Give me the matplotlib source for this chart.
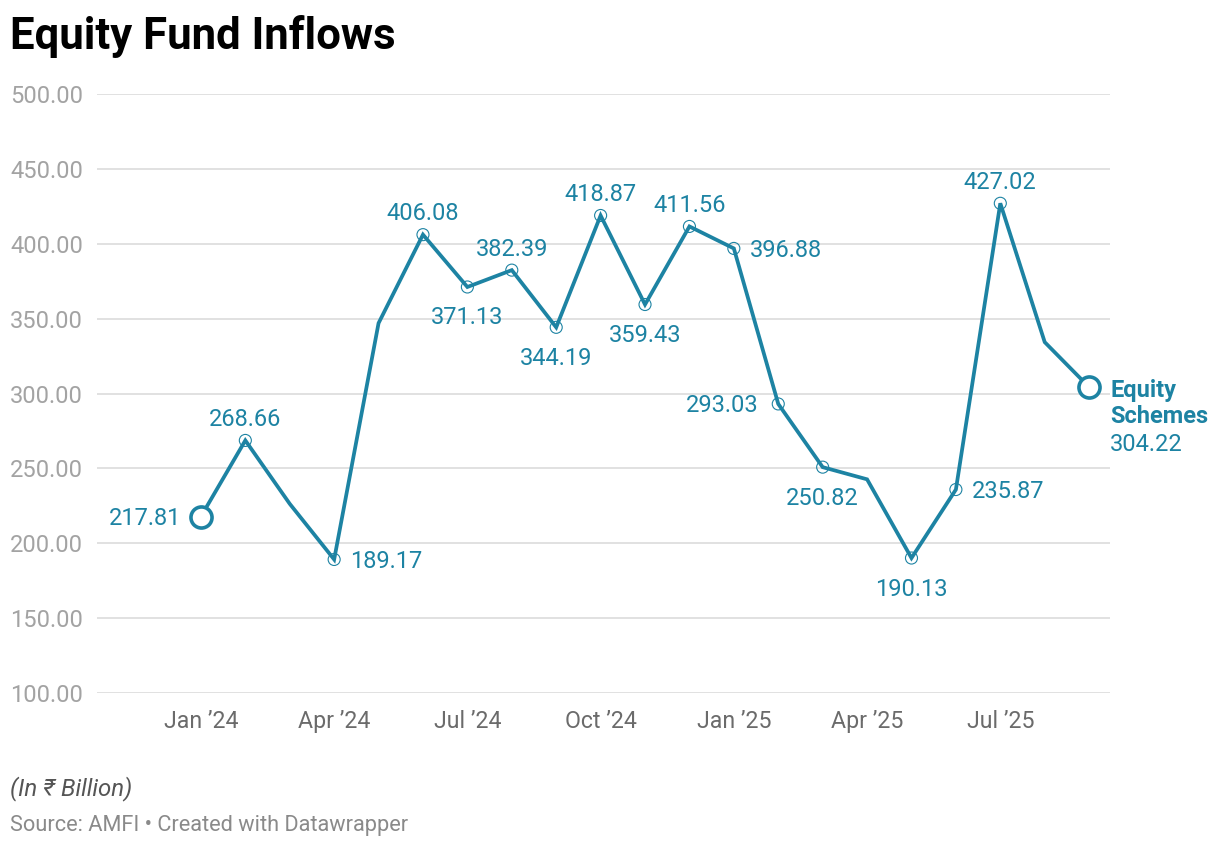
import matplotlib
matplotlib.use("Agg")
import matplotlib.pyplot as plt

months = ["Jan '24", "Feb '24", "Mar '24", "Apr '24", "May '24", "Jun '24", "Jul '24",
          "Aug '24", "Sep '24", "Oct '24", "Nov '24", "Dec '24", "Jan '25", "Feb '25",
          "Mar '25", "Apr '25", "May '25", "Jun '25", "Jul '25", "Aug '25", "Sep '25"]
values = [217.81, 268.66, 226.33, 189.17, 346.97, 406.08, 371.13, 382.39, 344.19,
          418.87, 359.43, 411.56, 396.88, 293.03, 250.82, 242.69, 190.13, 235.87,
          427.02, 334.30, 304.22]
labeled = [True, True, False, True, False, True, True, True, True, True, True, True,
           True, True, True, False, True, True, True, False, True]
label_pos = ["left", "above", None, "right", None, "above", "below", "above", "below",
             "above", "below", "above", "right", "left", "below", None, "below",
             "right", "above", None, "end"]
xtick_idx = [0, 3, 6, 9, 12, 15, 18]
xtick_labels = ["Jan \u201924", "Apr \u201924", "Jul \u201924", "Oct \u201924",
                "Jan \u201925", "Apr \u201925", "Jul \u201925"]
yticks = [100, 150, 200, 250, 300, 350, 400, 450, 500]
series_name = "Equity\nSchemes"

COLOR = "#1d83a3"
FONT = ["Roboto", "DejaVu Sans"]
plt.rcParams['font.family'] = FONT

W, H = 1220, 848
fig = plt.figure(figsize=(W / 100, H / 100), dpi=100)
left_px, right_px, top_px, bottom_px = 97, 1110, 94, 693
ax = fig.add_axes([left_px / W, 1 - bottom_px / H, (right_px - left_px) / W,
                   (bottom_px - top_px) / H])

x = list(range(len(values)))
ax.plot(x, values, color=COLOR, lw=2.7, solid_joinstyle='miter', zorder=3)
mx = [i for i in x if labeled[i] and i not in (0, len(values) - 1)]
ax.scatter(mx, [values[i] for i in mx], s=75, facecolors='none', edgecolors=COLOR,
           linewidths=0.8, zorder=4)
ends = [0, len(values) - 1]
ax.scatter(ends, [values[i] for i in ends], s=230, facecolors='white', edgecolors=COLOR,
           linewidths=2.6, zorder=5)

ax.set_xlim(-2.34, 20.47)
ax.set_ylim(100, 500)
ax.set_yticks(yticks)
ax.set_yticklabels([f"{v:.2f}" for v in yticks])
ax.set_xticks(xtick_idx)
ax.set_xticklabels(xtick_labels)
ax.grid(axis='y', color='#e1e1e1', lw=1.4, zorder=0)
ax.grid(axis='x', visible=False)
for s in ax.spines.values():
    s.set_visible(False)
ax.tick_params(axis='both', length=0)
ax.tick_params(axis='y', pad=62.5, labelsize=17, labelcolor='#a3a3a3')
ax.tick_params(axis='x', pad=12.5, labelsize=16.7, labelcolor='#6b6b6b')
for lab in ax.get_yticklabels():
    lab.set_ha('left')

offsets = {"above": (0, 21, 'center', 'center'), "below": (0, -31, 'center', 'center'),
           "left": (-20, -2, 'right', 'center'), "right": (16, -2, 'left', 'center')}
for i, v in enumerate(values):
    p = label_pos[i]
    if p is None:
        continue
    if p == "end":
        ax.annotate(series_name, (i, v), xytext=(21, -16), textcoords='offset pixels',
                    ha='left', va='center', fontsize=17, fontweight='bold', color=COLOR,
                    linespacing=1.15, annotation_clip=False)
        ax.annotate(f"{v:.2f}", (i, v), xytext=(21, -57), textcoords='offset pixels',
                    ha='left', va='center', fontsize=17, color=COLOR,
                    annotation_clip=False)
        continue
    dx, dy, ha, va = offsets[p]
    ax.annotate(f"{v:.2f}", (i, v), xytext=(dx, dy),
                textcoords='offset pixels', ha=ha, va=va, fontsize=17, color=COLOR,
                zorder=6)

fig.text(10 / W, 1 - 36 / H, "Equity Fund Inflows", fontsize=31.5, fontweight='bold',
         color='#000000', ha='left', va='center')
fig.text(10 / W, 1 - 789 / H, "(In \u20b9 Billion)", fontsize=17.3, style='italic',
         color='#555555', ha='left', va='center')
fig.text(10 / W, 1 - 826 / H, "Source: AMFI \u2022 Created with Datawrapper", fontsize=15.7,
         color='#8a8a8a', ha='left', va='center')

fig.savefig("out.png", dpi=100, facecolor='white')
